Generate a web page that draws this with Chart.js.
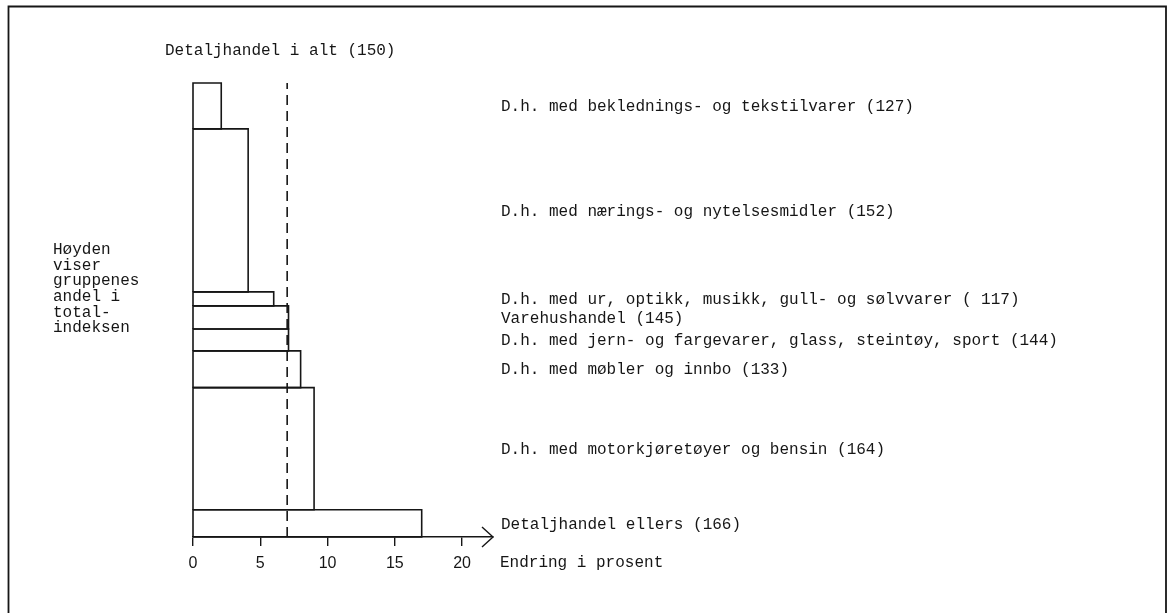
<!DOCTYPE html>
<html>
<head>
<meta charset="utf-8">
<script src="https://cdn.jsdelivr.net/npm/chart.js@4/dist/chart.umd.min.js"></script>
<style>
  html, body { margin: 0; padding: 0; background: #fff; }
  #wrap { width: 1170px; height: 613px; position: relative; }
</style>
</head>
<body>
<div id="wrap"><canvas id="chart" width="1170" height="613"></canvas></div>
<script>
// groups, top to bottom
const groups = [
    "D.h. med beklednings- og tekstilvarer (127)",
    "D.h. med nærings- og nytelsesmidler (152)",
    "D.h. med ur, optikk, musikk, gull- og sølvvarer ( 117)",
    "Varehushandel (145)",
    "D.h. med jern- og fargevarer, glass, steintøy, sport (144)",
    "D.h. med møbler og innbo (133)",
    "D.h. med motorkjøretøyer og bensin (164)",
    "Detaljhandel ellers (166)",
];
// percent change (bar length)
const changes = [2.1, 4.1, 6.0, 7.1, 7.1, 8.0, 9.0, 17.0];
// share of total index (bar height)
const shares = [10.1, 35.9, 3.1, 5.1, 4.8, 8.1, 26.9, 6.0];
// total retail trade
const totalLabel = "Detaljhandel i alt (150)";
const totalChange = 7.0;

const xTicks = [0, 5, 10, 15, 20];
const xTitle = "Endring i prosent";
const sideNote = ["Høyden", "viser", "gruppenes", "andel i", "total-", "indeksen"];

const ink = "#161616";
const monoFont = '16px "Liberation Mono", "DejaVu Sans Mono", monospace';

// build one closed outline per group, stacked downwards from 100
let level = shares.reduce((a, b) => a + b, 0);
const centers = [];
const barSets = groups.map((name, i) => {
    const top = level;
    level -= shares[i];
    const bottom = level;
    centers.push((top + bottom) / 2);
    return {
        label: name,
        data: [
            { x: 0, y: bottom },
            { x: changes[i], y: bottom },
            { x: changes[i], y: top },
            { x: 0, y: top },
            { x: 0, y: bottom },
        ],
        showLine: true,
        fill: false,
        clip: false,
        borderColor: ink,
        borderWidth: 1.6,
        pointRadius: 0,
        tension: 0,
    };
});

const totalSet = {
    label: totalLabel,
    data: [{ x: totalChange, y: 0 }, { x: totalChange, y: 100 }],
    showLine: true,
    fill: false,
    clip: false,
    borderColor: ink,
    borderWidth: 1.6,
    borderDash: [10, 6],
    pointRadius: 0,
};

// texts, frame and axis arrow
const decorations = {
    id: "decorations",
    afterDraw(chart) {
        const c = chart.ctx;
        const xs = chart.scales.x;
        const ys = chart.scales.y;
        c.save();

        // frame (open at the bottom)
        c.strokeStyle = ink;
        c.lineWidth = 1.8;
        c.beginPath();
        c.moveTo(8.5, 613);
        c.lineTo(8.5, 6.5);
        c.lineTo(1166, 6.5);
        c.lineTo(1166, 613);
        c.stroke();

        // arrow head at end of x axis
        const ax = xs.right;
        const ay = ys.getPixelForValue(0);
        c.lineWidth = 1.4;
        c.beginPath();
        c.moveTo(ax - 11, ay - 10);
        c.lineTo(ax, ay);
        c.lineTo(ax - 11, ay + 10);
        c.stroke();

        c.fillStyle = ink;
        c.font = monoFont;
        c.textBaseline = "middle";
        c.textAlign = "left";

        c.fillText(totalLabel, 165, 51);

        groups.forEach((name, i) => {
            c.fillText(name, 501, ys.getPixelForValue(centers[i]) + 1);
        });

        c.fillText(xTitle, 500, 563);

        sideNote.forEach((line, i) => {
            c.fillText(line, 53, 250 + i * 15.6);
        });

        c.restore();
    },
};

new Chart(document.getElementById("chart"), {
    type: "scatter",
    data: { datasets: [totalSet, ...barSets] },
    options: {
        responsive: false,
        animation: false,
        events: [],
        layout: { padding: { left: 193, right: 677, top: 83, bottom: 0 } },
        plugins: {
            legend: { display: false },
            tooltip: { enabled: false },
        },
        scales: {
            x: {
                type: "linear",
                min: 0,
                max: 22.3,
                afterFit(scale) {
                    scale.height = 76;
                },
                afterBuildTicks(scale) {
                    scale.ticks = xTicks.map((v) => ({ value: v }));
                },
                grid: {
                    drawOnChartArea: false,
                    drawTicks: true,
                    tickLength: 9,
                    color: ink,
                    lineWidth: 1.4,
                },
                border: { display: true, color: ink, width: 1.6 },
                ticks: {
                    color: ink,
                    padding: 8,
                    maxRotation: 0,
                    font: { family: '"Liberation Sans", Arial, sans-serif', size: 16 },
                },
            },
            y: {
                type: "linear",
                min: 0,
                max: 100,
                display: false,
            },
        },
    },
    plugins: [decorations],
});
</script>
</body>
</html>
